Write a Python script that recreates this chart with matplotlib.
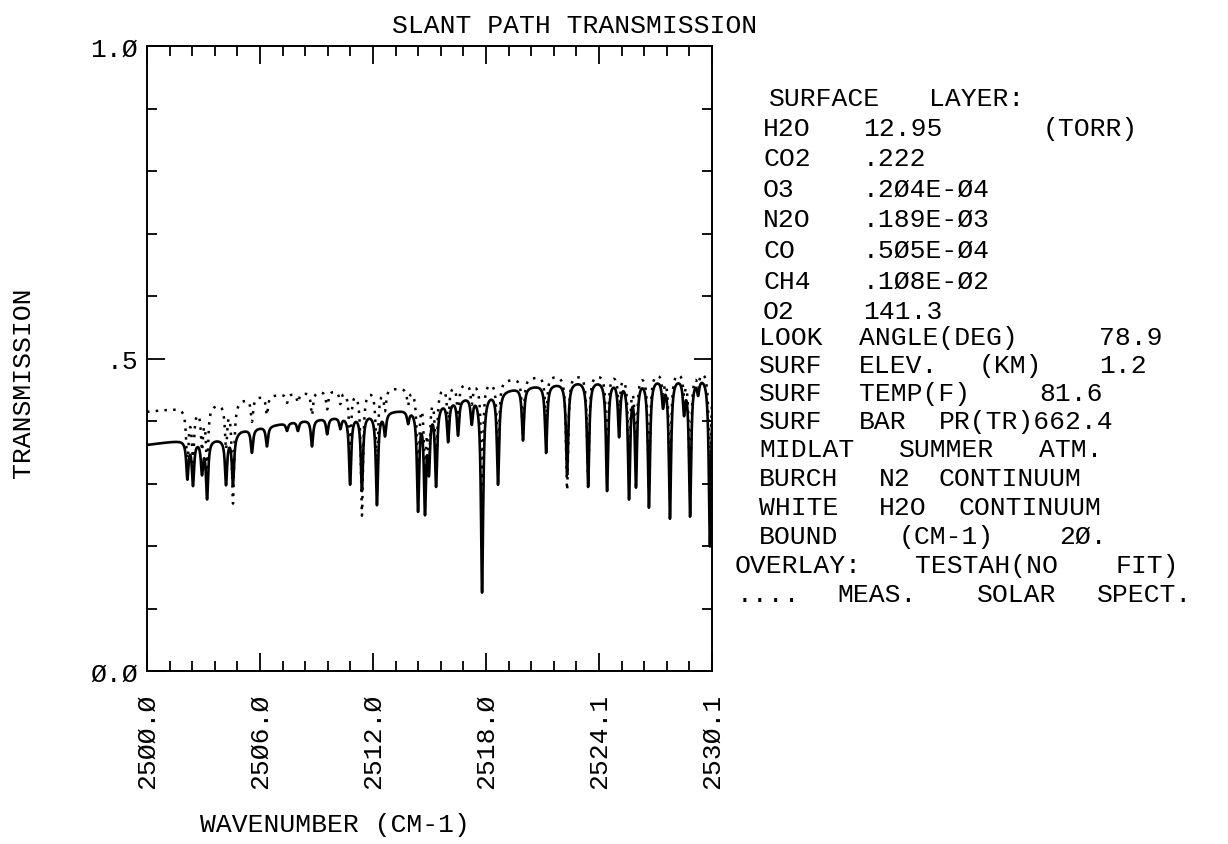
import numpy as np
import matplotlib
matplotlib.use("Agg")
import matplotlib.pyplot as plt
from matplotlib.ticker import MultipleLocator

# absorption lines: centre (cm-1), model minimum, measured minimum
line_wn = [2502.15, 2502.45, 2502.93, 2503.20, 2504.21, 2504.58, 2505.59, 2506.39,
           2507.46, 2508.04, 2508.79, 2509.60, 2510.30, 2510.82, 2511.45, 2512.25,
           2512.68, 2513.91, 2514.44, 2514.81, 2515.02, 2515.40, 2516.04, 2516.57,
           2517.30, 2517.85, 2518.70, 2520.03, 2521.26, 2522.38, 2523.50, 2524.51,
           2525.15, 2525.68, 2526.05, 2526.74, 2527.49, 2527.86, 2528.61, 2528.93,
           2529.36, 2529.99]
model_min = [0.31, 0.30, 0.32, 0.278, 0.30, 0.30, 0.35, 0.36,
             0.385, 0.385, 0.36, 0.38, 0.39, 0.30, 0.29, 0.267,
             0.38, 0.40, 0.26, 0.26, 0.33, 0.30, 0.37, 0.38,
             0.40, 0.126, 0.30, 0.37, 0.35, 0.315, 0.296, 0.29,
             0.38, 0.28, 0.30, 0.264, 0.43, 0.246, 0.42, 0.25,
             0.45, 0.20]
meas_min = [0.33, 0.34, 0.36, 0.33, 0.36, 0.27, 0.40, 0.41,
            0.43, 0.43, 0.41, 0.42, 0.43, 0.36, 0.25, 0.33,
            0.42, 0.43, 0.30, 0.32, 0.34, 0.33, 0.40, 0.41,
            0.43, 0.30, 0.33, 0.38, 0.40, 0.29, 0.31, 0.34,
            0.42, 0.33, 0.34, 0.30, 0.45, 0.30, 0.45, 0.29,
            0.46, 0.30]

# continuum levels between the lines
model_cont_wn = [2500.0, 2502.0, 2504.0, 2505.0, 2508.0, 2511.0, 2514.0, 2517.0,
                 2520.0, 2523.0, 2526.0, 2530.1]
model_cont = [0.362, 0.37, 0.372, 0.385, 0.40, 0.41, 0.42, 0.44,
              0.455, 0.465, 0.47, 0.475]
meas_cont_wn = [2500.0, 2503.0, 2506.0, 2510.0, 2514.0, 2518.0, 2522.0, 2526.0, 2530.1]
meas_cont = [0.415, 0.425, 0.44, 0.45, 0.455, 0.465, 0.475, 0.48, 0.485]

x_ticks = [2500.0, 2506.02, 2512.04, 2518.06, 2524.08, 2530.1]
x_tick_labels = ["25ØØ.Ø", "25Ø6.Ø", "2512.Ø", "2518.Ø", "2524.1", "253Ø.1"]
y_ticks = [0.0, 0.5, 1.0]
y_tick_labels = ["Ø.Ø", ".5", "1.Ø"]

info_lines = [
    (769, 99, "SURFACE LAYER:"),
    (763, 129, "H2O  12.95    (TORR)"),
    (763, 159, "CO2  .222"),
    (763, 190, "O3   .2Ø4E-Ø4"),
    (763, 220, "N2O  .189E-Ø3"),
    (763, 251, "CO   .5Ø5E-Ø4"),
    (763, 282, "CH4  .1Ø8E-Ø2"),
    (763, 312, "O2   141.3"),
    (759, 338, "LOOK ANGLE(DEG)  78.9"),
    (759, 366, "SURF ELEV. (KM)  1.2"),
    (759, 394, "SURF TEMP(F)  81.6"),
    (759, 422, "SURF BAR PR(TR)662.4"),
    (759, 450, "MIDLAT SUMMER ATM."),
    (759, 479, "BURCH N2 CONTINUUM"),
    (759, 508, "WHITE H2O CONTINUUM"),
    (759, 537, "BOUND  (CM-1)  2Ø."),
    (735, 566, "OVERLAY: TESTAH(NO FIT)"),
    (737, 595, ".... MEAS.  SOLAR SPECT."),
]

FONT = ["Liberation Mono", "DejaVu Sans Mono"]
W, H = 1228, 845
PITCH = 20      # plotter character cell, px
HW = 0.07       # line half width, cm-1
FS = 19

plt.rcParams['font.family'] = FONT


def fx(px):
    return px / W


def fy(py):
    return 1 - py / H


def spectrum(wn, cont_wn, cont, mins):
    base = np.interp(wn, cont_wn, cont)
    t = base.copy()
    for c, m in zip(line_wn, mins):
        f = 1 - m / np.interp(c, cont_wn, cont)
        t *= 1 - f * HW**2 / ((wn - c)**2 + HW**2)
    return t


fig = plt.figure(figsize=(W / 100, H / 100), dpi=100)
ax = fig.add_axes([fx(147), fy(672), fx(712) - fx(147), fy(47) - fy(672)])

wn = np.linspace(2500.0, 2530.1, 8000)
model = spectrum(wn, model_cont_wn, model_cont, model_min)
meas = spectrum(wn, meas_cont_wn, meas_cont, meas_min)

ax.plot(wn, model, color="black", lw=1.9)
ax.plot(wn, meas, color="black", lw=1.8, linestyle=(0, (1, 2.5)))

ax.set_xlim(2500.0, 2530.1)
ax.set_ylim(0, 1)
ax.set_xticks(x_ticks)
ax.set_xticklabels(x_tick_labels, rotation=90, fontsize=FS, va="center")
ax.set_xticks(np.linspace(2500.0, 2530.1, 26), minor=True)
ax.set_yticks(y_ticks)
ax.set_yticklabels(y_tick_labels, fontsize=FS)
ax.yaxis.set_minor_locator(MultipleLocator(0.1))
ax.tick_params(which="both", direction="in", top=True, right=True, width=1.3)
ax.tick_params(which="major", length=13, pad=6.5)
ax.tick_params(axis="x", which="major", pad=50)
ax.tick_params(which="minor", length=7)
for s in ax.spines.values():
    s.set_linewidth(1.4)

fig.text(fx(575), fy(26), "SLANT PATH TRANSMISSION", ha="center", va="center", fontsize=FS)
fig.text(fx(23), fy(383), "TRANSMISSION", rotation=90, ha="center", va="center", fontsize=FS)
fig.text(fx(335), fy(825), "WAVENUMBER (CM-1)", ha="center", va="center", fontsize=FS)

# right-hand summary, words laid on a fixed character grid
for x0, y0, line in info_lines:
    idx = 0
    for word in line.split(" "):
        if word:
            fig.text(fx(x0 + idx * PITCH), fy(y0), word, ha="left", va="center", fontsize=FS)
        idx += len(word) + 1

fig.savefig("out.png", dpi=100, facecolor="white")
